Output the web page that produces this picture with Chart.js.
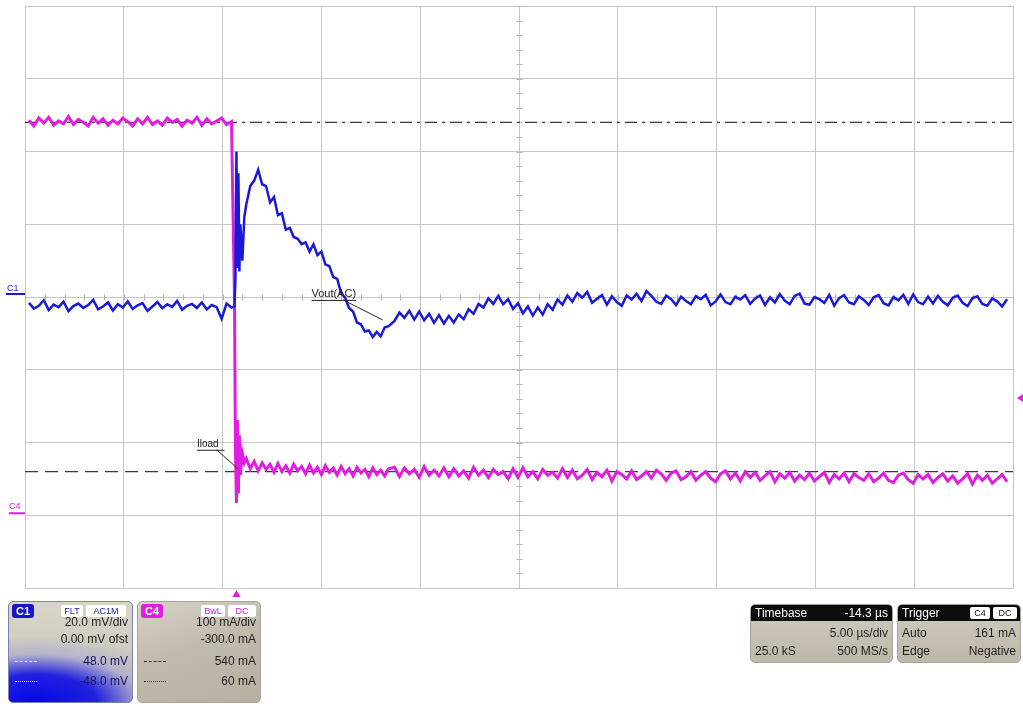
<!DOCTYPE html>
<html>
<head>
<meta charset="utf-8">
<script src="https://cdn.jsdelivr.net/npm/chart.js@4.4.1/dist/chart.umd.min.js"></script>
<style>
  html, body { margin: 0; padding: 0; background: #fff; }
  #wrap { position: relative; width: 1023px; height: 704px; overflow: hidden;
          font-family: "Liberation Sans", Arial, sans-serif; }
  #scope { position: absolute; left: 0; top: 0; }
  .box { position: absolute; box-sizing: border-box; border-radius: 5px; color: #1e1e1e; font-size: 12px; }
  .row { position: absolute; left: 4px; right: 4px; height: 16px; line-height: 16px; white-space: nowrap; }
  .row .l { position: absolute; left: 0; }
  .row .r { position: absolute; right: 0; }
  .badge { position: absolute; top: 2px; height: 14px; line-height: 14px; font-size: 11px; font-weight: bold;
           border-radius: 3px; text-align: center; color: #fff; }
  .tag { position: absolute; top: 3px; height: 12px; line-height: 12px; font-size: 9px; background: #fff;
         border-radius: 2px; text-align: center; }
  .head { position: absolute; left: 0; right: 0; top: 0; height: 16px; line-height: 16px; background: #0c0c0c;
          color: #fff; border-radius: 4px 4px 0 0; }
  .head .l { position: absolute; left: 4px; }
  .head .r { position: absolute; right: 4px; }
  .mark { position: absolute; left: 2px; top: 8px; width: 22px; height: 0; }
</style>
</head>
<body>
<div id="wrap">
  <canvas id="scope" width="1023" height="704"></canvas>

  <!-- C1 channel box -->
  <div class="box" style="left:8px;top:601px;width:125px;height:102px;border:1px solid #7c82b0;
       background:radial-gradient(ellipse 130% 72% at 22% 100%, #0606e8 0%, #2020e0 38%, rgba(160,160,215,0.55) 66%, rgba(200,196,190,0) 92%),
                  linear-gradient(180deg,#d9d5c8,#c6c2b6);">
    <div class="badge" style="left:3px;width:22px;background:#1616c8;">C1</div>
    <div class="tag" style="left:52px;width:22px;color:#2020b0;">FLT</div>
    <div class="tag" style="left:77px;width:40px;color:#2020b0;">AC1M</div>
    <div class="row" style="top:12px;"><span class="r">20.0 mV/div</span></div>
    <div class="row" style="top:29px;"><span class="r">0.00 mV ofst</span></div>
    <div class="row" style="top:51px;color:#14145a;"><span class="mark" style="border-top:1px dashed #dde;"></span><span class="r">48.0 mV</span></div>
    <div class="row" style="top:71px;color:#14145a;"><span class="mark" style="border-top:1px dotted #dde;"></span><span class="r">-48.0 mV</span></div>
  </div>

  <!-- C4 channel box -->
  <div class="box" style="left:137px;top:601px;width:124px;height:102px;border:1px solid #a8a498;
       background:linear-gradient(160deg,#d6d2c6 0%,#c0bbad 45%,#b6b0a1 100%);">
    <div class="badge" style="left:3px;width:22px;background:#e01ee0;">C4</div>
    <div class="tag" style="left:63px;width:24px;color:#d020d0;">BwL</div>
    <div class="tag" style="left:90px;width:28px;color:#d020d0;">DC</div>
    <div class="row" style="top:12px;"><span class="r">100 mA/div</span></div>
    <div class="row" style="top:29px;"><span class="r">-300.0 mA</span></div>
    <div class="row" style="top:51px;"><span class="mark" style="border-top:1px dashed #333;"></span><span class="r">540 mA</span></div>
    <div class="row" style="top:71px;"><span class="mark" style="border-top:1px dotted #333;"></span><span class="r">60 mA</span></div>
  </div>

  <!-- Timebase box -->
  <div class="box" style="left:750px;top:604px;width:143px;height:59px;border:1px solid #a8a498;
       background:linear-gradient(180deg,#cfcbbe,#bdb8aa);">
    <div class="head"><span class="l">Timebase</span><span class="r">-14.3 µs</span></div>
    <div class="row" style="top:20px;"><span class="r">5.00 µs/div</span></div>
    <div class="row" style="top:38px;"><span class="l">25.0 kS</span><span class="r">500 MS/s</span></div>
  </div>

  <!-- Trigger box -->
  <div class="box" style="left:897px;top:604px;width:124px;height:59px;border:1px solid #a8a498;
       background:linear-gradient(180deg,#cfcbbe,#bdb8aa);">
    <div class="head"><span class="l">Trigger</span></div>
    <div class="tag" style="left:72px;top:2px;width:20px;color:#111;">C4</div>
    <div class="tag" style="left:95px;top:2px;width:24px;color:#111;">DC</div>
    <div class="row" style="top:20px;"><span class="l">Auto</span><span class="r">161 mA</span></div>
    <div class="row" style="top:38px;"><span class="l">Edge</span><span class="r">Negative</span></div>
  </div>
</div>

<script>
"use strict";

// ── Data (time in µs, trigger at 0) ────────────────────────────────────────
const xDivUs = [-10.7, -5.7, -0.7, 4.3, 9.3, 14.3, 19.3, 24.3, 29.3, 34.3, 39.3];

// sample times shared by both traces
const timeUs = [
  // before the load step
  -10.5, -10.25, -10.0, -9.75, -9.5, -9.25, -9.0, -8.75, -8.5, -8.25,
  -8.0, -7.75, -7.5, -7.25, -7.0, -6.75, -6.5, -6.25, -6.0, -5.75,
  -5.5, -5.25, -5.0, -4.75, -4.5, -4.25, -4.0, -3.75, -3.5, -3.25,
  -3.0, -2.75, -2.5, -2.25, -2.0, -1.75, -1.5, -1.25, -1.0, -0.75,
  -0.5, -0.25,
  // the step
  -0.1, -0.05, 0.0, 0.05, 0.1, 0.15, 0.2, 0.3, 0.4,
  // recovery
  0.5, 0.7, 0.9, 1.1, 1.3, 1.5, 1.7, 1.9, 2.1, 2.3,
  2.5, 2.7, 2.9, 3.1, 3.3, 3.5, 3.7, 3.9, 4.1, 4.3,
  4.5, 4.7, 4.9, 5.1, 5.3, 5.5, 5.7, 5.9, 6.1, 6.3,
  6.5, 6.7, 6.9, 7.1, 7.3, 7.5, 7.7,
  // settled
  8.0, 8.25, 8.5, 8.75, 9.0, 9.25, 9.5, 9.75, 10.0, 10.25, 10.5, 10.75,
  11.0, 11.25, 11.5, 11.75, 12.0, 12.25, 12.5, 12.75, 13.0, 13.25, 13.5, 13.75,
  14.0, 14.25, 14.5, 14.75, 15.0, 15.25, 15.5, 15.75, 16.0, 16.25, 16.5, 16.75,
  17.0, 17.25, 17.5, 17.75, 18.0, 18.25, 18.5, 18.75, 19.0, 19.25, 19.5, 19.75,
  20.0, 20.25, 20.5, 20.75, 21.0, 21.25, 21.5, 21.75, 22.0, 22.25, 22.5, 22.75,
  23.0, 23.25, 23.5, 23.75, 24.0, 24.25, 24.5, 24.75, 25.0, 25.25, 25.5, 25.75,
  26.0, 26.25, 26.5, 26.75, 27.0, 27.25, 27.5, 27.75, 28.0, 28.25, 28.5, 28.75,
  29.0, 29.25, 29.5, 29.75, 30.0, 30.25, 30.5, 30.75, 31.0, 31.25, 31.5, 31.75,
  32.0, 32.25, 32.5, 32.75, 33.0, 33.25, 33.5, 33.75, 34.0, 34.25, 34.5, 34.75,
  35.0, 35.25, 35.5, 35.75, 36.0, 36.25, 36.5, 36.75, 37.0, 37.25, 37.5, 37.75,
  38.0, 38.25, 38.5, 38.75, 39.0
];

// C1 – Vout(AC), mV
const voutMv = [
  -1.6, -3.2, -2.4, -0.9, -3.6, -2.1, -2.8, -1.3, -3.9, -2.5,
  -1.8, -3.0, -2.2, -0.8, -3.4, -2.6, -1.5, -3.7, -2.0, -2.9,
  -1.2, -3.3, -2.3, -1.7, -3.8, -2.6, -1.4, -3.1, -2.0, -2.7,
  -1.1, -3.5, -2.4, -1.9, -3.0, -1.5, -3.4, -2.2, -2.8, -6.0,
  -1.8, -2.9,
  -2.6, 5.0, 40.0, 8.0, 34.0, 7.0, 20.0, 10.0, 22.0,
  25.5, 30.5, 32.0, 35.0, 31.0, 30.5, 26.0, 27.5, 22.5, 23.0,
  18.5, 19.0, 16.5, 16.0, 14.5, 15.0, 12.5, 14.5, 11.5, 12.5,
  9.0, 8.5, 5.5, 5.0, 1.0, -0.2, -3.0, -4.0, -7.0, -7.5,
  -9.5, -9.2, -11.0, -9.6, -10.8, -8.4, -8.0,
  -6.6, -4.3, -5.7, -3.8, -6.2, -4.0, -6.4, -4.6, -7.1, -5.0, -7.3, -5.2,
  -7.0, -4.8, -6.1, -3.4, -4.6, -1.9, -2.9, -0.4, -1.9, 0.3, -2.0, -0.6,
  -3.3, -1.7, -4.5, -2.6, -5.1, -2.9, -4.8, -2.0, -3.5, -0.7, -2.1, 0.4,
  -1.3, 1.1, -0.2, 1.4, -1.6, -0.5, 0.5, -2.1, 0.2, -1.4, -2.4, 0.4,
  -0.7, 0.9, -1.1, 1.6, 0.3, -1.3, -1.9, 0.4, -0.6, -2.2, 0.1, -1.1,
  -2.0, 0.2, -0.6, 0.6, -2.3, -1.2, 0.7, -1.4, -2.0, 0.1, -0.7, 0.5,
  -1.9, -0.4, 0.4, -2.2, -0.1, -1.5, 0.8, -1.0, -2.0, 0.3, 0.9, -1.8,
  -2.1, 0.0, -0.6, -1.6, 0.6, -2.4, -0.3, 0.5, -1.5, -2.0, 0.2, -0.8,
  -2.2, -0.1, 0.5, -1.7, -2.3, 0.0, -0.9, 0.6, -1.9, 0.7, -1.4, -2.0,
  0.1, -1.8, 0.3, -1.3, -2.3, -0.2, 0.4, -1.6, -2.5, -0.3, 0.2, -1.9,
  -2.4, -0.4, -1.2, -2.6, -0.6
];

// C4 – Iload, mA
const iloadMa = [
  543, 535, 546, 539, 547, 536, 542, 538, 548, 537,
  544, 540, 535, 547, 539, 545, 536, 543, 538, 546,
  541, 535, 545, 538, 547, 537, 542, 536, 546, 540,
  544, 535, 543, 539, 547, 536, 545, 538, 542, 546,
  537, 541,
  300, 90, 17, 131, 30, 110, 55, 85, 72,
  78, 64, 74, 61, 72, 63, 70, 59, 71, 60,
  68, 58, 70, 61, 67, 57, 69, 58, 66, 56,
  68, 59, 65, 55, 67, 57, 64, 54, 66, 58,
  63, 53, 65, 56, 62, 54, 64,
  66, 53, 65, 57, 63, 52, 67, 55, 62, 54, 65, 53,
  64, 54, 61, 51, 66, 55, 62, 52, 63, 56, 60, 50,
  64, 52, 65, 53, 60, 50, 63, 55, 59, 51, 64, 52,
  62, 50, 55, 63, 49, 59, 53, 62, 47, 60, 56, 50,
  61, 49, 54, 60, 51, 62, 57, 48, 58, 61, 49, 53,
  60, 48, 55, 60, 51, 46, 57, 61, 50, 58, 47, 60,
  52, 59, 48, 54, 60, 46, 57, 51, 59, 47, 55, 49,
  58, 47, 53, 59, 45, 56, 50, 58, 46, 57, 52, 48,
  57, 46, 51, 58, 48, 45, 55, 58, 49, 44, 56, 50,
  56, 45, 52, 57, 47, 54, 44, 50, 57, 43, 55, 48,
  55, 44, 50, 56, 46
];

// cursor levels (C4, mA) and trigger settings
const cursorHighMa = 540;
const cursorLowMa  = 60;
const triggerLevelMa = 161;

// ── Colours ────────────────────────────────────────────────────────────────
const BLUE    = "#1a1ad6";
const MAGENTA = "#e01ee0";
const GRID    = "#c6c6c6";

const X_MIN = xDivUs[0], X_MAX = xDivUs[xDivUs.length - 1], X_MID = 14.3;

function pts(xs, ys) {
  if (xs.length !== ys.length) console.warn("length mismatch", xs.length, ys.length);
  return ys.map((y, i) => ({ x: xs[i], y }));
}

// ── Scope decorations: centre ticks, markers, labels ───────────────────────
const scopeDecor = {
  id: "scopeDecor",
  beforeDatasetsDraw(chart) {
    const { ctx, scales: { x, yV } } = chart;
    const cx = Math.round(x.getPixelForValue(X_MID)) + 0.5;
    const cy = Math.round(yV.getPixelForValue(0)) + 0.5;
    ctx.save();
    ctx.strokeStyle = "#b4b4b4";
    ctx.lineWidth = 1;
    ctx.beginPath();
    for (let k = -25; k <= 25; k++) {          // 0.2 div = 1 µs
      const px = Math.round(x.getPixelForValue(X_MID + k)) + 0.5;
      ctx.moveTo(px, cy - 3); ctx.lineTo(px, cy + 3);
    }
    for (let k = -20; k <= 20; k++) {          // 0.2 div = 4 mV
      const py = Math.round(yV.getPixelForValue(k * 4)) + 0.5;
      ctx.moveTo(cx - 3, py); ctx.lineTo(cx + 3, py);
    }
    ctx.stroke();
    ctx.restore();
  },
  afterDatasetsDraw(chart) {
    const { ctx, chartArea, scales: { x, yV, yI } } = chart;
    ctx.save();

    // channel ground markers on the left
    ctx.font = "9px 'Liberation Sans', Arial, sans-serif";
    ctx.textBaseline = "alphabetic";
    const g1 = yV.getPixelForValue(0);
    ctx.fillStyle = BLUE;
    ctx.fillText("C1", 7, g1 - 6);
    ctx.fillRect(6, g1 - 4, chartArea.left - 6, 2);
    const g4 = yI.getPixelForValue(0);
    ctx.fillStyle = MAGENTA;
    ctx.fillText("C4", 9, g4 - 6);
    ctx.fillRect(9, g4 - 3, chartArea.left - 9, 2);

    // trigger position (bottom) and level (right)
    const tx = x.getPixelForValue(0);
    ctx.beginPath();
    ctx.moveTo(tx, chartArea.bottom + 2);
    ctx.lineTo(tx - 4, chartArea.bottom + 9);
    ctx.lineTo(tx + 4, chartArea.bottom + 9);
    ctx.closePath(); ctx.fill();
    const ty = yI.getPixelForValue(triggerLevelMa);
    ctx.beginPath();
    ctx.moveTo(chartArea.right + 4, ty);
    ctx.lineTo(chartArea.right + 10, ty - 4);
    ctx.lineTo(chartArea.right + 10, ty + 4);
    ctx.closePath(); ctx.fill();

    // trace labels with leader lines
    ctx.fillStyle = "#222";
    ctx.strokeStyle = "#222";
    ctx.lineWidth = 1;
    ctx.font = "11px 'Liberation Sans', Arial, sans-serif";
    let lx = x.getPixelForValue(3.8), ly = yV.getPixelForValue(-0.8);
    ctx.fillText("Vout(AC)", lx, ly - 3);
    let w = ctx.measureText("Vout(AC)").width;
    ctx.beginPath();
    ctx.moveTo(lx, ly + 0.5); ctx.lineTo(lx + w, ly + 0.5);
    ctx.moveTo(x.getPixelForValue(5.4), ly);
    ctx.lineTo(x.getPixelForValue(7.4), yV.getPixelForValue(-6.3));
    ctx.stroke();

    ctx.font = "10px 'Liberation Sans', Arial, sans-serif";
    lx = x.getPixelForValue(-2.0); ly = yI.getPixelForValue(90);
    ctx.fillText("Iload", lx, ly - 3);
    w = ctx.measureText("Iload").width;
    ctx.beginPath();
    ctx.moveTo(lx, ly + 0.5); ctx.lineTo(lx + w + 6, ly + 0.5);
    ctx.moveTo(x.getPixelForValue(-1.0), ly);
    ctx.lineTo(x.getPixelForValue(0.15), yI.getPixelForValue(62));
    ctx.stroke();

    ctx.restore();
  }
};

// ── Chart ──────────────────────────────────────────────────────────────────
new Chart(document.getElementById("scope").getContext("2d"), {
  type: "line",
  data: {
    datasets: [
      {
        label: "Vout(AC)", yAxisID: "yV", order: 0,
        data: pts(timeUs, voutMv),
        borderColor: BLUE, borderWidth: 2.5, pointRadius: 0, tension: 0
      },
      {
        label: "Iload", yAxisID: "yI", order: 1,
        data: pts(timeUs, iloadMa),
        borderColor: MAGENTA, borderWidth: 3, pointRadius: 0, tension: 0
      },
      {
        label: "cursor high", yAxisID: "yI", order: 2,
        data: [{ x: X_MIN, y: cursorHighMa }, { x: X_MAX, y: cursorHighMa }],
        borderColor: "#3a3a3a", borderWidth: 1.2, borderDash: [12, 5, 3, 5], pointRadius: 0
      },
      {
        label: "cursor low", yAxisID: "yI", order: 2,
        data: [{ x: X_MIN, y: cursorLowMa }, { x: X_MAX, y: cursorLowMa }],
        borderColor: "#3a3a3a", borderWidth: 1.2, borderDash: [13, 7], pointRadius: 0
      }
    ]
  },
  options: {
    responsive: false,
    animation: false,
    events: [],
    layout: { padding: { left: 25, top: 6, right: 10, bottom: 116 } },
    plugins: { legend: { display: false }, tooltip: { enabled: false } },
    scales: {
      x: {
        type: "linear", min: X_MIN, max: X_MAX,
        afterBuildTicks: s => { s.ticks = xDivUs.map(v => ({ value: v })); },
        grid: { color: GRID, drawTicks: false },
        border: { color: GRID },
        ticks: { display: false }
      },
      yV: {
        type: "linear", position: "left", min: -80, max: 80,
        ticks: { display: false, stepSize: 20 },
        grid: { color: GRID, drawTicks: false },
        border: { color: GRID }
      },
      yI: {
        type: "linear", display: false, min: -100, max: 700
      }
    }
  },
  plugins: [scopeDecor]
});
</script>
</body>
</html>
